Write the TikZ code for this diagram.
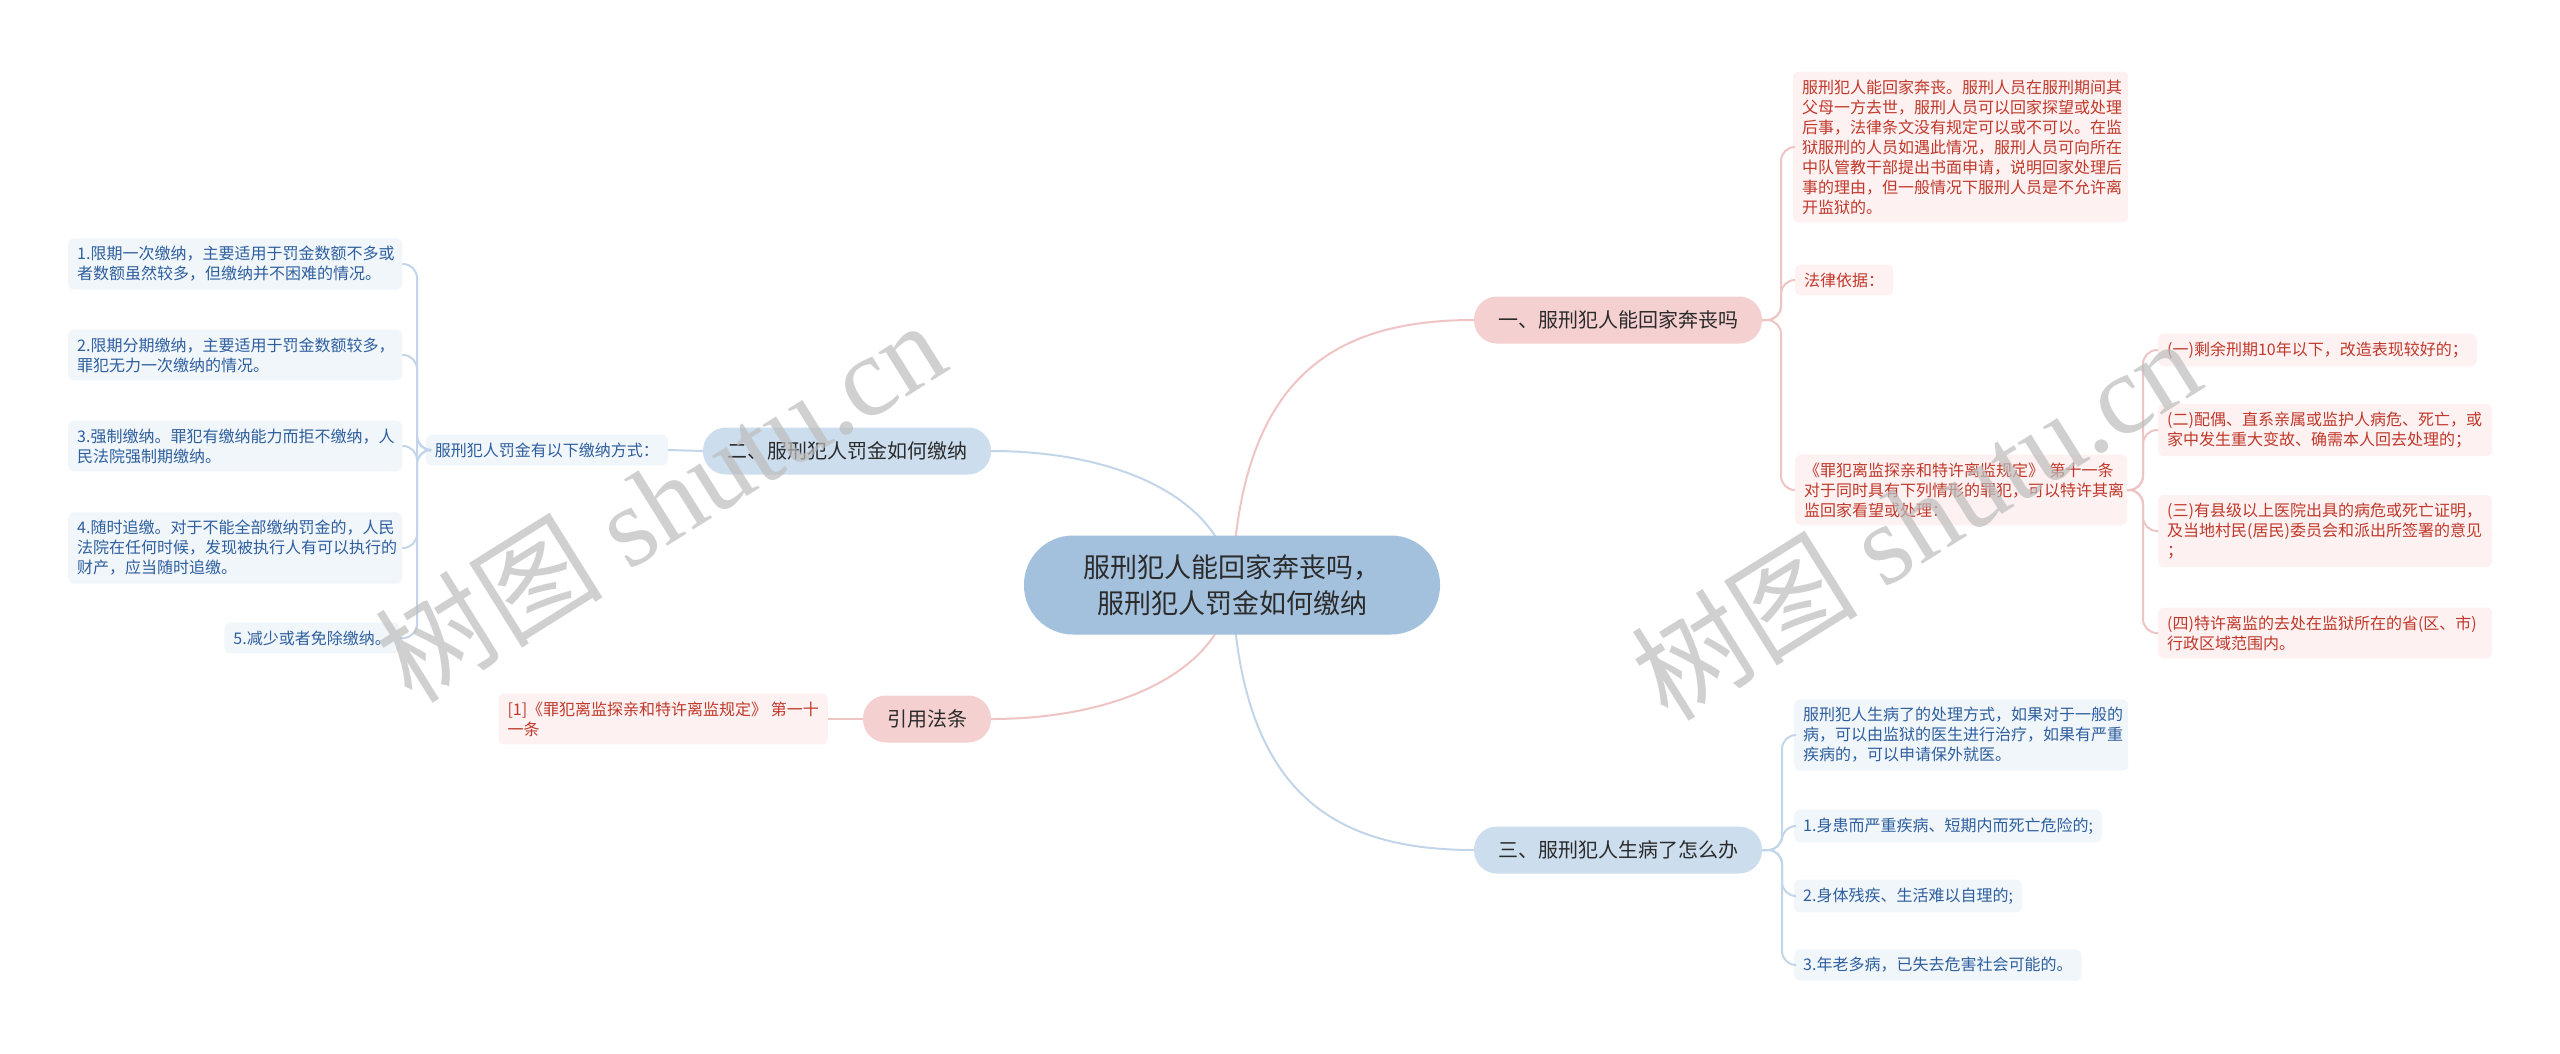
\documentclass[tikz,border=0pt]{standalone}
\usepackage{fontspec}
\setmainfont{Noto Sans CJK SC}
\newfontfamily\wmlatin{Liberation Serif}
\definecolor{lpfill}{HTML}{FDF1F1}
\definecolor{lptext}{HTML}{C0392B}
\definecolor{lbfill}{HTML}{F1F6FB}
\definecolor{lbtext}{HTML}{2E5F9E}
\definecolor{ppfill}{HTML}{F5D0D0}
\definecolor{pbfill}{HTML}{CCDDEE}
\definecolor{cfill}{HTML}{A3C0DD}
\definecolor{ptext}{HTML}{2B2B2B}
\definecolor{lpline}{HTML}{EFC4C4}
\definecolor{lbline}{HTML}{C3D5E8}
\definecolor{wmgray}{HTML}{BDBDBD}
\tikzset{
  leafp/.style={fill=lpfill, text=lptext, rounded corners=6pt, inner xsep=9pt, inner ysep=8pt, align=left, font=\fontsize{16}{20}\selectfont},
  leafb/.style={fill=lbfill, text=lbtext, rounded corners=6pt, inner xsep=9pt, inner ysep=8pt, align=left, font=\fontsize{16}{20}\selectfont},
  pillp/.style={fill=ppfill, text=ptext, rounded corners=23pt, minimum height=47pt, inner xsep=24pt, font=\fontsize{20}{24}\selectfont},
  pillb/.style={fill=pbfill, text=ptext, rounded corners=23pt, minimum height=47pt, inner xsep=24pt, font=\fontsize{20}{24}\selectfont},
  linkp/.style={draw=lpline, line width=2pt},
  linkb/.style={draw=lbline, line width=2pt},
  brk/.style={rounded corners=14pt},
  wm/.style={text=wmgray, opacity=0.7, font=\fontsize{114}{114}\selectfont, rotate=32}
}
\begin{document}
\begin{tikzpicture}[x=1pt,y=-1pt]
\fill[white] (0,0) rectangle (2560,1053);
\useasboundingbox (0,0) rectangle (2560,1053);

% central and branch nodes
\node[pillp] (b1) at (1618,320) {一、服刑犯人能回家奔丧吗};
\node[pillb] (b2) at (847,451) {二、服刑犯人罚金如何缴纳};
\node[pillb] (b3) at (1618,850) {三、服刑犯人生病了怎么办};
\node[pillp] (b4) at (927,719) {引用法条};
\coordinate (cc) at (1232,585);

% main connectors (behind central node)
\draw[linkp] (cc) .. controls (1240,380) and (1330,320) .. (b1.west);
\draw[linkb] (cc) .. controls (1225,500) and (1120,451) .. (b2.east);
\draw[linkb] (cc) .. controls (1240,790) and (1330,850) .. (b3.west);
\draw[linkp] (cc) .. controls (1225,670) and (1120,719) .. (b4.east);

\node[fill=cfill, text=ptext, rounded corners=49pt, minimum width=416pt, minimum height=99pt, align=center, font=\fontsize{27}{36}\selectfont] (c) at (cc) {服刑犯人能回家奔丧吗，\\服刑犯人罚金如何缴纳};

% branch 1 leaves
\node[leafp, anchor=west, text width=317pt] (a) at (1793,147) {服刑犯人能回家奔丧。服刑人员在服刑期间其\\父母一方去世，服刑人员可以回家探望或处理\\后事，法律条文没有规定可以或不可以。在监\\狱服刑的人员如遇此情况，服刑人员可向所在\\中队管教干部提出书面申请，说明回家处理后\\事的理由，但一般情况下服刑人员是不允许离\\开监狱的。};
\node[leafp, anchor=west] (lb) at (1795,280) {法律依据：};
\node[leafp, anchor=west, text width=314pt] (lc) at (1795,490) {《罪犯离监探亲和特许离监规定》~第十一条\\对于同时具有下列情形的罪犯，可以特许其离\\监回家看望或处理：};
\node[leafp, anchor=west] (s1) at (2158,350) {(一)剩余刑期10年以下，改造表现较好的；};
\node[leafp, anchor=west, text width=316pt] (s2) at (2158,430) {(二)配偶、直系亲属或监护人病危、死亡，或\\家中发生重大变故、确需本人回去处理的；};
\node[leafp, anchor=west, text width=316pt] (s3) at (2158,531) {(三)有县级以上医院出具的病危或死亡证明，\\及当地村民(居民)委员会和派出所签署的意见\\；};
\node[leafp, anchor=west, text width=316pt] (s4) at (2158,633) {(四)特许离监的去处在监狱所在的省(区、市)\\行政区域范围内。};

\foreach \n in {a,lb,lc} \draw[linkp,brk] (b1.east) -- (1781,320) |- (\n.west);
\foreach \n in {s1,s2,s3,s4} \draw[linkp,brk] (lc.east) -- (2143,490) |- (\n.west);

% branch 3 leaves
\node[leafb, anchor=west, text width=316pt] (d) at (1794,735) {服刑犯人生病了的处理方式，如果对于一般的\\病，可以由监狱的医生进行治疗，如果有严重\\疾病的，可以申请保外就医。};
\node[leafb, anchor=west] (e) at (1794,826) {1.身患而严重疾病、短期内而死亡危险的;};
\node[leafb, anchor=west] (f) at (1794,896) {2.身体残疾、生活难以自理的;};
\node[leafb, anchor=west] (g) at (1794,965) {3.年老多病，已失去危害社会可能的。};
\foreach \n in {d,e,f,g} \draw[linkb,brk] (b3.east) -- (1782,850) |- (\n.west);

% branch 2 leaves
\node[leafb, anchor=east] (n) at (668,450) {服刑犯人罚金有以下缴纳方式：};
\draw[linkb] (b2.west) -- (n.east);
\node[leafb, anchor=west, text width=316pt] (h) at (68,264) {1.限期一次缴纳，主要适用于罚金数额不多或\\者数额虽然较多，但缴纳并不困难的情况。};
\node[leafb, anchor=west, text width=316pt] (i) at (68,355) {2.限期分期缴纳，主要适用于罚金数额较多，\\罪犯无力一次缴纳的情况。};
\node[leafb, anchor=west, text width=316pt] (j) at (68,446) {3.强制缴纳。罪犯有缴纳能力而拒不缴纳，人\\民法院强制期缴纳。};
\node[leafb, anchor=west, text width=316pt] (k) at (68,548) {4.随时追缴。对于不能全部缴纳罚金的，人民\\法院在任何时候，发现被执行人有可以执行的\\财产，应当随时追缴。};
\node[leafb, anchor=east] (l) at (400,638) {5.减少或者免除缴纳。};
\foreach \n in {h,i,j,k,l} \draw[linkb,brk] (n.west) -- (417,450) |- (\n.east);

% branch 4 leaf
\node[leafp, anchor=east] (m) at (828,719) {[1]《罪犯离监探亲和特许离监规定》~第一十\\一条};
\draw[linkp] (m.east) -- (b4.west);

% watermarks
\node[wm] (w1) at (660,500) {树图 {\wmlatin shutu.cn}};
\node[wm] (w2) at (1915,518) {树图 {\wmlatin shutu.cn}};
\end{tikzpicture}
\end{document}
